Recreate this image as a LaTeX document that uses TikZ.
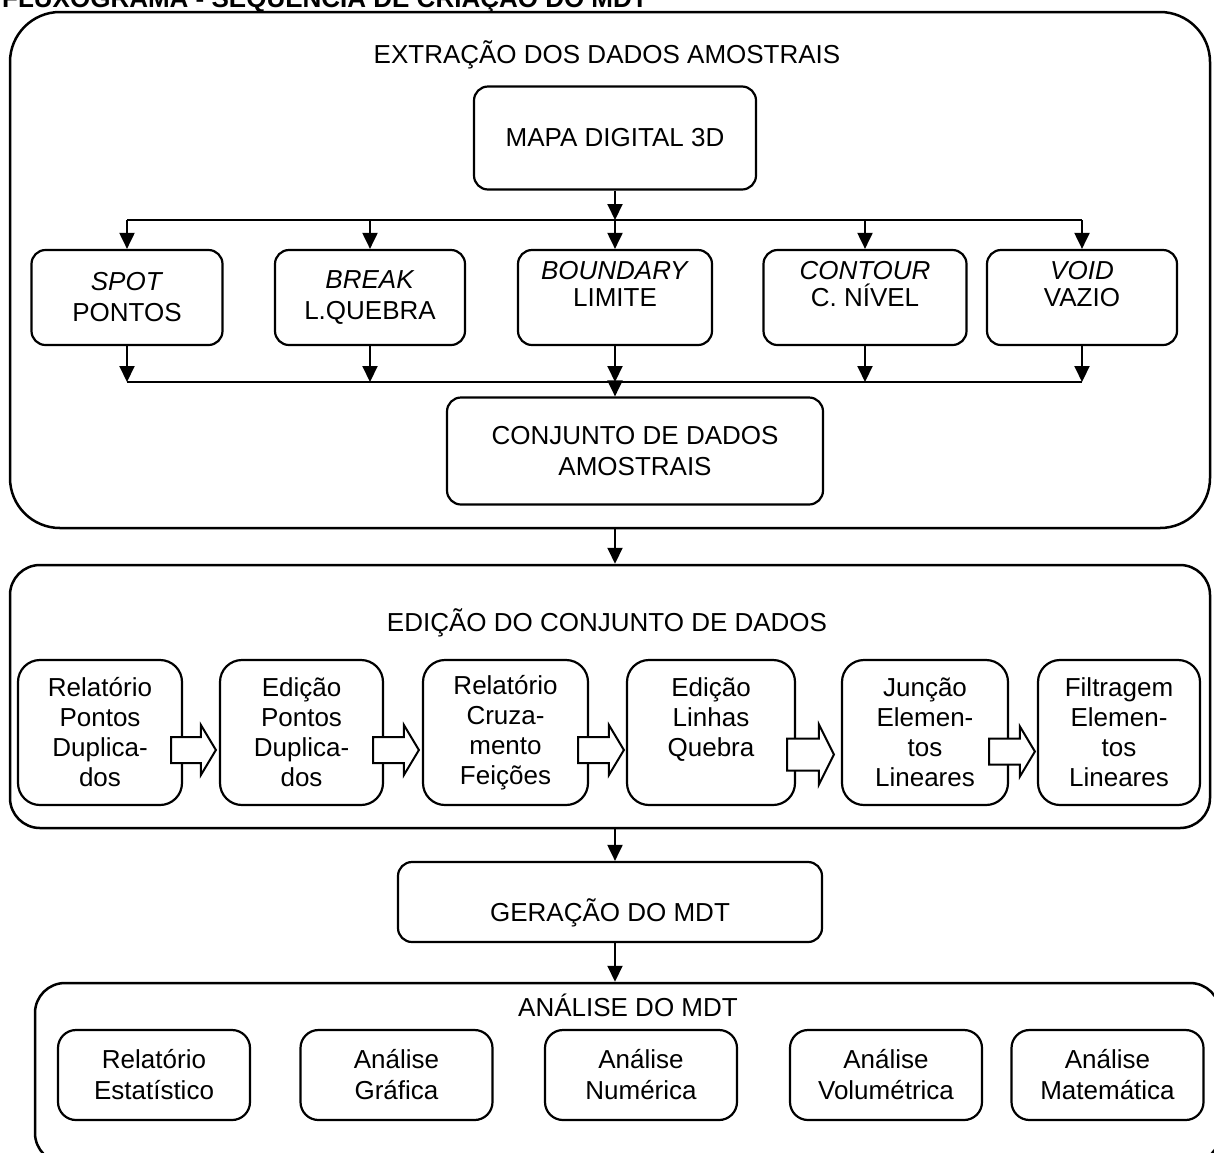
\documentclass[tikz,border=0pt]{standalone}
\usepackage{fontspec}
\setmainfont{Liberation Sans}
\usetikzlibrary{arrows.meta,calc}
% block (hollow) arrow between two boxes: from, to, back offset, tip gap, shift down, shaft half, head half
\newcommand{\blk}[7]{%
  \draw[barr] let \p1=($(#1.east)+(-#3,#5)$), \p2=($(#2.west)+(-#4,#5)$) in
  (\x1,\y1+#6) -- (\x2-15pt,\y1+#6) -- (\x2-15pt,\y1+#7) -- (\x2,\y1) --
  (\x2-15pt,\y1-#7) -- (\x2-15pt,\y1-#6) -- (\x1,\y1-#6) -- cycle;}
\begin{document}
\begin{tikzpicture}[x=1pt,y=-1pt,
  outer/.style={draw, line width=2.5pt, inner sep=0pt},
  box/.style={draw, line width=2.2pt, rounded corners=14pt, align=center,
    font=\fontsize{26}{31}\selectfont, inner sep=0pt},
  ibox/.style={box, rounded corners=22pt, minimum height=145pt, font=\fontsize{26}{30}\selectfont},
  abox/.style={box, rounded corners=18pt, minimum height=90pt, minimum width=192pt},
  rbox/.style={box, minimum height=95pt},
  tight/.style={font=\fontsize{26}{27}\selectfont},
  arr/.style={line width=2pt, -{Triangle[width=15pt,length=16pt]}},
  bus/.style={line width=2pt},
  barr/.style={draw, line width=2pt, fill=white, line join=miter},
  ttl/.style={font=\fontsize{26}{30}\selectfont, inner sep=0pt}
]
\useasboundingbox (0,0) rectangle (1214,1152);
\fill[white] (0,0) rectangle (1214,1152);
\clip (0,0) rectangle (1214,1152);

% cut-off heading
\node[anchor=base west, inner sep=0pt, font=\bfseries\fontsize{26}{30}\selectfont] (fig) at (2,7)
  {FLUXOGRAMA - SEQUÊNCIA DE CRIAÇÃO DO MDT};

% ---------- section 1 ----------
\node[outer, rounded corners=50pt, minimum width=1200pt, minimum height=516pt] (sec1) at (610,270) {};
\node[ttl] (t1) at (607,55) {EXTRAÇÃO DOS DADOS AMOSTRAIS};
\node[box, minimum width=282pt, minimum height=103pt] (mapa) at (615,138) {MAPA DIGITAL 3D};

\node[rbox, minimum width=191pt] (spot) at (127,297.5) {\textit{SPOT}\\PONTOS};
\node[rbox, minimum width=190pt] (brk) at (370,297.5) {\textit{BREAK}\\L.QUEBRA};
\node[rbox, tight, minimum width=194pt] (bound) at (615,297.5) {\textit{BOUNDARY}\\LIMITE\\\mbox{}};
\node[rbox, tight, minimum width=203pt] (cont) at (865,297.5) {\textit{CONTOUR}\\C. NÍVEL\\\mbox{}};
\node[rbox, tight, minimum width=190pt] (void) at (1082,297.5) {\textit{VOID}\\VAZIO\\\mbox{}};

\node[box, minimum width=376pt, minimum height=107pt] (conj) at (635,451) {CONJUNTO DE DADOS\\AMOSTRAIS};

\coordinate (bus1) at (615,220);
\coordinate (bus2) at (615,382);
\draw[arr] (mapa.south) -- (mapa.south |- bus1);
\draw[bus] (spot.north |- bus1) -- (void.north |- bus1);
\foreach \n in {spot,brk,bound,cont,void} \draw[arr] (\n.north |- bus1) -- (\n.north);
\foreach \n in {spot,brk,bound,cont,void} \draw[arr] (\n.south) -- (\n.south |- bus2);
\draw[bus] (spot.south |- bus2) -- (void.south |- bus2);
\draw[arr] (bound.south |- bus2) -- (bound.south |- conj.north);

% ---------- section 2 ----------
\node[outer, rounded corners=30pt, minimum width=1200pt, minimum height=263pt] (sec2) at (610,696.5) {};
\node[ttl] (t2) at (607,623) {EDIÇÃO DO CONJUNTO DE DADOS};
\node[ibox, minimum width=164pt] (e1) at (100,732.5) {Relatório\\Pontos\\Duplica-\\dos};
\node[ibox, minimum width=163pt] (e2) at (301.5,732.5) {Edição\\Pontos\\Duplica-\\dos};
\node[ibox, minimum width=165pt] (e3) at (505.5,732.5) {Relatório\\Cruza-\\mento\\Feições};
\node[ibox, minimum width=168pt] (e4) at (711,732.5) {Edição\\Linhas\\Quebra\\\mbox{}};
\node[ibox, minimum width=166pt] (e5) at (925,732.5) {Junção\\Elemen-\\tos\\Lineares};
\node[ibox, minimum width=162pt] (e6) at (1119,732.5) {Filtragem\\Elemen-\\tos\\Lineares};

\blk{e1}{e2}{12}{3}{17.5}{13pt}{25pt}
\blk{e2}{e3}{11}{3}{17.5}{13pt}{25pt}
\blk{e3}{e4}{11}{2}{17.5}{13pt}{25pt}
\blk{e4}{e5}{9}{7}{22}{16pt}{30pt}
\blk{e5}{e6}{20}{2}{19}{13pt}{25pt}

\draw[arr] (bound.south |- sec1.south) -- (bound.south |- sec2.north);

% ---------- generation ----------
\node[box, minimum width=424pt, minimum height=80pt, text height=40pt, text depth=2pt] (ger) at (610,902) {GERAÇÃO DO MDT};
\draw[arr] (bound.south |- sec2.south) -- (bound.south |- ger.north);

% ---------- section 4 ----------
\node[outer, rounded corners=30pt, minimum width=1185pt, minimum height=180pt] (sec4) at (627.5,1073) {};
\node[ttl] (t4) at (628,1005) {ANÁLISE DO MDT};
\draw[arr] (bound.south |- ger.south) -- (bound.south |- sec4.north);

\node[abox] (a1) at (154,1075) {Relatório\\Estatístico};
\node[abox] (a2) at (396.5,1075) {Análise\\Gráfica};
\node[abox] (a3) at (641,1075) {Análise\\Numérica};
\node[abox] (a4) at (886,1075) {Análise\\Volumétrica};
\node[abox] (a5) at (1107.5,1075) {Análise\\Matemática};
\end{tikzpicture}
\end{document}
